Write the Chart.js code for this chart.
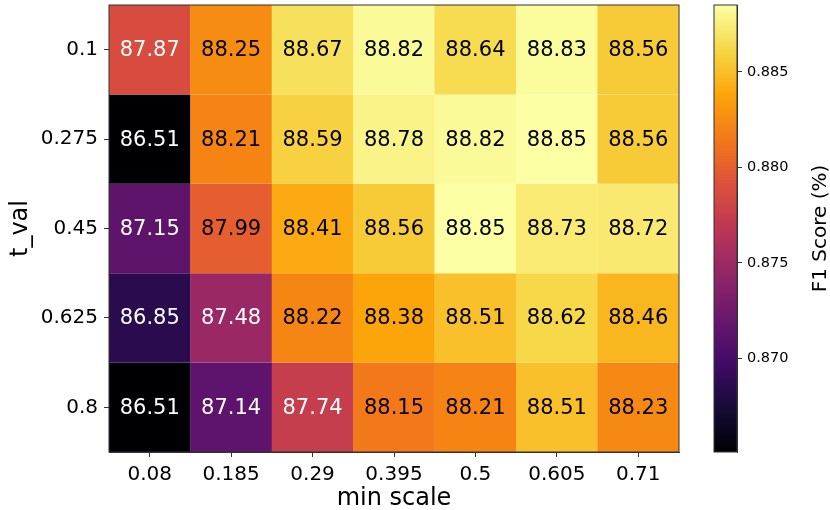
<!DOCTYPE html>
<html>
<head>
<meta charset="utf-8">
<script src="https://cdn.jsdelivr.net/npm/chart.js@4/dist/chart.umd.min.js"></script>
<style>
  html, body { margin: 0; padding: 0; background: #fff; }
  #wrap { position: relative; width: 830px; height: 510px; }
  #main-box { position: absolute; left: 0; top: 0; width: 690px; height: 510px; }
  #cbar-box { position: absolute; left: 700px; top: 0; width: 130px; height: 510px; }
</style>
</head>
<body>
<div id="wrap">
  <div id="main-box"><canvas id="heatmap"></canvas></div>
  <div id="cbar-box"><canvas id="colorbar"></canvas></div>
</div>
<script>
// t_val rows (top to bottom) and min scale columns
const tValLabels = ['0.1', '0.275', '0.45', '0.625', '0.8'];
const minScaleLabels = ['0.08', '0.185', '0.29', '0.395', '0.5', '0.605', '0.71'];

// F1 scores, one array per t_val row
const row01 = [87.87, 88.25, 88.67, 88.82, 88.64, 88.83, 88.56];
const row0275 = [86.51, 88.21, 88.59, 88.78, 88.82, 88.85, 88.56];
const row045 = [87.15, 87.99, 88.41, 88.56, 88.85, 88.73, 88.72];
const row0625 = [86.85, 87.48, 88.22, 88.38, 88.51, 88.62, 88.46];
const row08 = [86.51, 87.14, 87.74, 88.15, 88.21, 88.51, 88.23];
const scoreRows = [row01, row0275, row045, row0625, row08];

// colorbar range and ticks (fraction, not percent)
const colorMin = 0.8651;
const colorMax = 0.8885;
const colorbarTicks = [0.870, 0.875, 0.880, 0.885];

const FONT = "'DejaVu Sans', sans-serif";
const EDGE = '#333333';

// inferno colormap stops
const infernoStops = ['#000004', '#160b39', '#420a68', '#6a176e', '#932667',
    '#bc3754', '#dd513a', '#f37819', '#fca50a', '#f6d746', '#fcffa4'];

function hexToRgb(h) {
    return [parseInt(h.slice(1, 3), 16), parseInt(h.slice(3, 5), 16), parseInt(h.slice(5, 7), 16)];
}

function inferno(t) {
    t = Math.min(1, Math.max(0, t));
    const pos = t * (infernoStops.length - 1);
    const i = Math.min(Math.floor(pos), infernoStops.length - 2);
    const f = pos - i;
    const a = hexToRgb(infernoStops[i]);
    const b = hexToRgb(infernoStops[i + 1]);
    const c = a.map((v, k) => Math.round(v + (b[k] - v) * f));
    return `rgb(${c[0]}, ${c[1]}, ${c[2]})`;
}

function scoreColor(v) {
    return inferno((v / 100 - colorMin) / (colorMax - colorMin));
}

// keep tick labels from pushing the chart area inward
function noScalePadding(s) {
    s.paddingTop = 0;
    s.paddingBottom = 0;
    s.paddingLeft = 0;
    s.paddingRight = 0;
}

// Draw the box around a chart area
const framePlugin = {
    id: 'frame',
    afterDraw(chart) {
        const { ctx, chartArea } = chart;
        ctx.save();
        ctx.strokeStyle = EDGE;
        ctx.lineWidth = 1;
        ctx.strokeRect(chartArea.left, chartArea.top,
            chartArea.right - chartArea.left, chartArea.bottom - chartArea.top);
        ctx.restore();
    }
};

// Write the score in the middle of each cell
const cellLabelPlugin = {
    id: 'cellLabels',
    afterDatasetsDraw(chart) {
        const ctx = chart.ctx;
        ctx.save();
        ctx.font = `21px ${FONT}`;
        ctx.textAlign = 'center';
        ctx.textBaseline = 'middle';
        chart.data.datasets.forEach((ds, r) => {
            const meta = chart.getDatasetMeta(r);
            meta.data.forEach((bar, c) => {
                const v = scoreRows[r][c];
                ctx.fillStyle = v < 87.9 ? '#ffffff' : '#000000';
                ctx.fillText(v.toFixed(2), bar.x, (bar.y + bar.base) / 2 + 1);
            });
        });
        ctx.restore();
    }
};

const heatDatasets = scoreRows.map((vals, r) => ({
    data: vals.map(() => [r - 0.5, r + 0.5]),
    backgroundColor: vals.map(scoreColor),
    borderWidth: 0,
    grouped: false,
    barPercentage: 1.004,
    categoryPercentage: 1
}));

new Chart(document.getElementById('heatmap'), {
    type: 'bar',
    data: { labels: minScaleLabels, datasets: heatDatasets },
    options: {
        responsive: true,
        maintainAspectRatio: false,
        animation: false,
        layout: { padding: { top: 5, right: 11, left: 0, bottom: 0 } },
        plugins: { legend: { display: false }, tooltip: { enabled: false } },
        scales: {
            x: {
                type: 'category',
                offset: true,
                grid: { offset: false, drawOnChartArea: false, tickLength: 5, color: EDGE },
                border: { color: EDGE },
                ticks: { color: '#000', font: { family: FONT, size: 20 }, padding: 6, maxRotation: 0 },
                title: {
                    display: true, text: 'min scale', color: '#000',
                    font: { family: FONT, size: 24 }, padding: { top: 0, bottom: -3 }
                },
                afterFit: (s) => { s.height = 58; noScalePadding(s); }
            },
            y: {
                type: 'linear',
                min: -0.5,
                max: 4.5,
                reverse: true,
                afterBuildTicks: (s) => { s.ticks = tValLabels.map((_, i) => ({ value: i })); },
                grid: { drawOnChartArea: false, tickLength: 5, color: EDGE },
                border: { color: EDGE },
                ticks: {
                    color: '#000',
                    font: { family: FONT, size: 20 },
                    padding: 6,
                    callback: (v) => tValLabels[v]
                },
                title: {
                    display: true, text: 't_val', color: '#000',
                    font: { family: FONT, size: 24 }, padding: { top: 6, bottom: 0 }
                },
                afterFit: (s) => { s.width = 109; noScalePadding(s); }
            }
        }
    },
    plugins: [cellLabelPlugin, framePlugin]
});

// Colorbar title, read bottom to top
const cbarTitlePlugin = {
    id: 'cbarTitle',
    afterDraw(chart) {
        const { ctx, chartArea } = chart;
        ctx.save();
        ctx.translate(121, (chartArea.top + chartArea.bottom) / 2);
        ctx.rotate(-Math.PI / 2);
        ctx.font = `20px ${FONT}`;
        ctx.fillStyle = '#000';
        ctx.textAlign = 'center';
        ctx.textBaseline = 'middle';
        ctx.fillText('F1 Score (%)', 0, 0);
        ctx.restore();
    }
};

function colorbarFill(context) {
    const { chart } = context;
    const area = chart.chartArea;
    if (!area) return infernoStops[5];
    const g = chart.ctx.createLinearGradient(0, area.bottom, 0, area.top);
    infernoStops.forEach((c, i) => g.addColorStop(i / (infernoStops.length - 1), c));
    return g;
}

new Chart(document.getElementById('colorbar'), {
    type: 'bar',
    data: {
        labels: [''],
        datasets: [{
            data: [[colorMin, colorMax]],
            backgroundColor: colorbarFill,
            borderWidth: 0,
            barPercentage: 1,
            categoryPercentage: 1
        }]
    },
    options: {
        responsive: true,
        maintainAspectRatio: false,
        animation: false,
        layout: { padding: { top: 5, right: 0, left: 14, bottom: 58 } },
        plugins: { legend: { display: false }, tooltip: { enabled: false } },
        scales: {
            x: { display: false },
            y: {
                position: 'right',
                min: colorMin,
                max: colorMax,
                afterBuildTicks: (s) => { s.ticks = colorbarTicks.map(v => ({ value: v })); },
                grid: { drawOnChartArea: false, tickLength: 5, color: EDGE },
                border: { color: EDGE },
                ticks: {
                    color: '#000',
                    font: { family: FONT, size: 14.5 },
                    padding: 5,
                    callback: (v) => v.toFixed(3)
                },
                afterFit: (s) => { s.width = 93; noScalePadding(s); }
            }
        }
    },
    plugins: [framePlugin, cbarTitlePlugin]
});
</script>
</body>
</html>
